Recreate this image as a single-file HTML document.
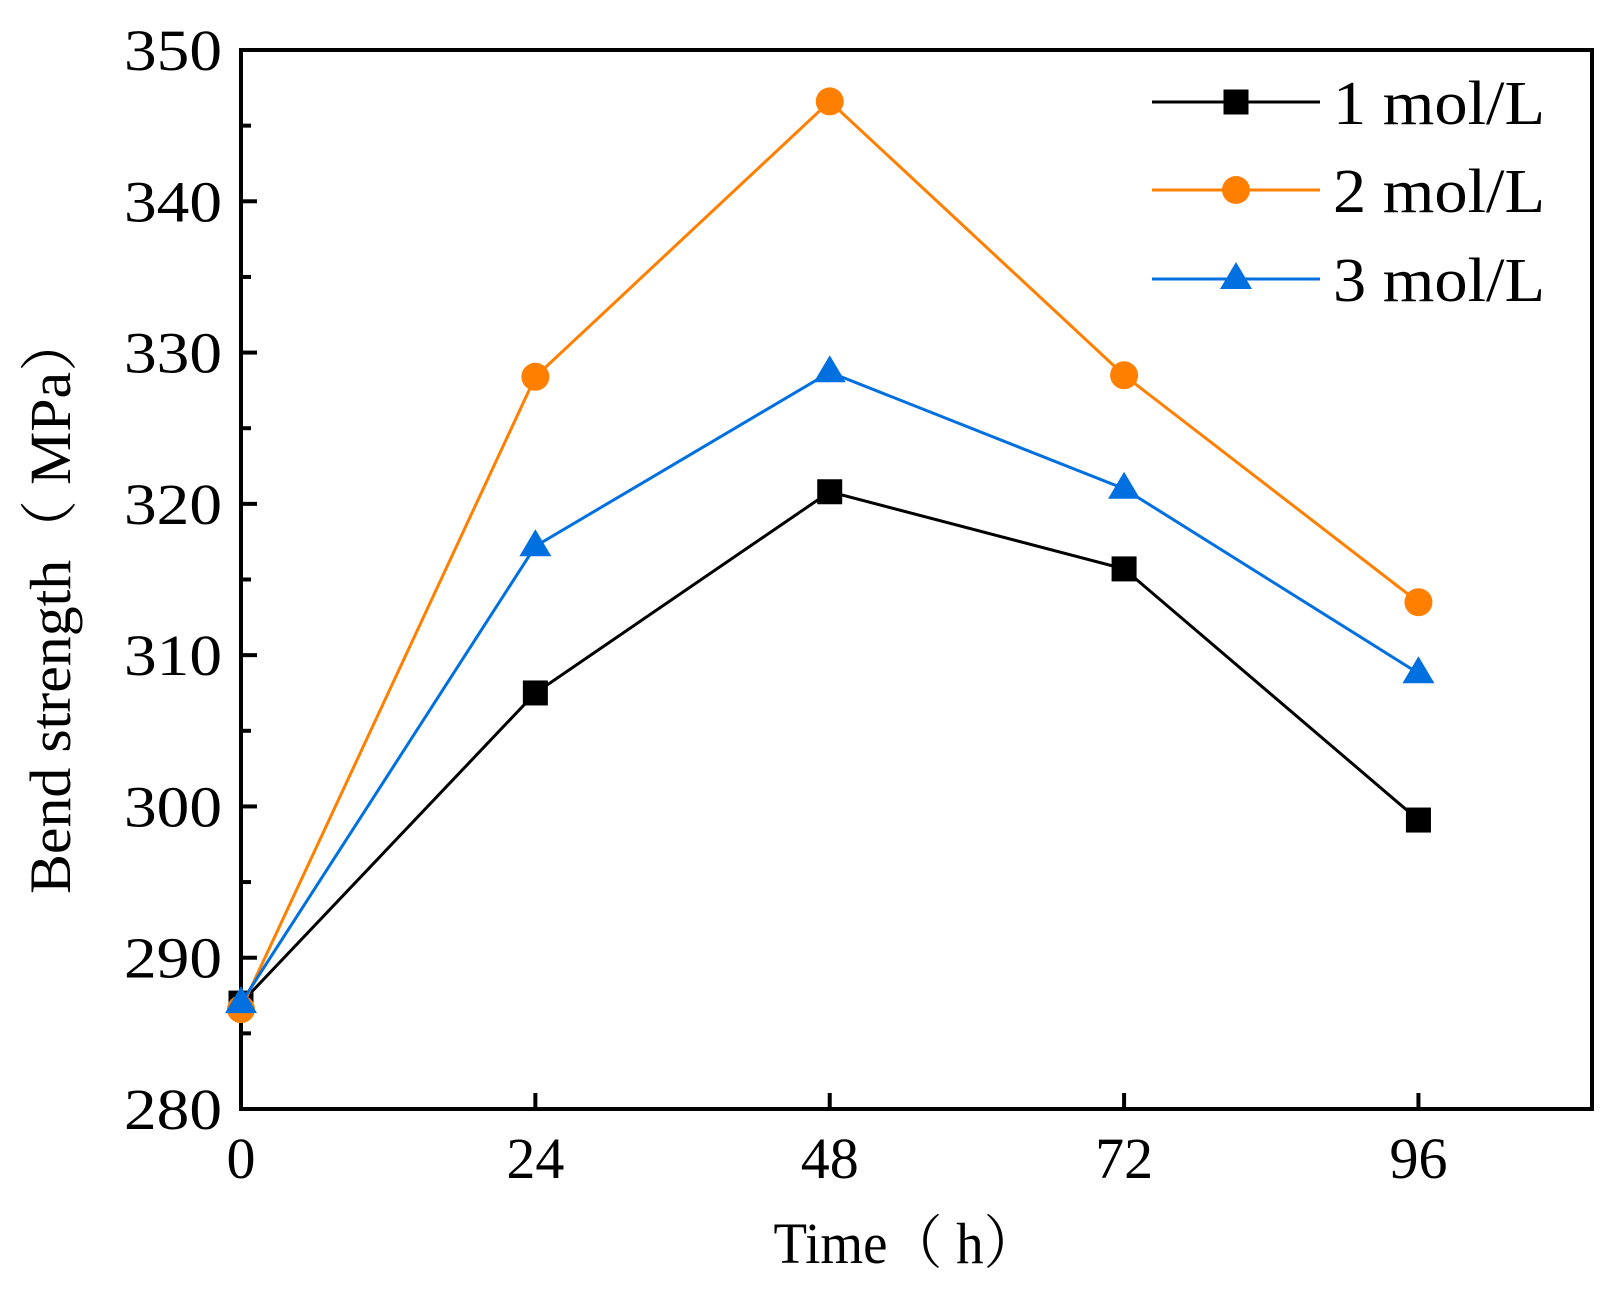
<!DOCTYPE html>
<html><head><meta charset="utf-8"><style>
html,body{margin:0;padding:0;background:#fff;}
svg{display:block;}
text{font-family:"Liberation Serif","Noto Serif CJK SC",serif;fill:#000;}
</style></head><body>
<svg id="chart" width="1621" height="1289" viewBox="0 0 1621 1289">
<g id="axes"></g>
<g id="series"></g>
<g id="legend"></g>
<text x="70" y="603" font-size="58" text-anchor="middle" textLength="582" lengthAdjust="spacingAndGlyphs" transform="rotate(-90 70 603)">Bend strength（ MPa）</text>
<text x="906" y="1263" font-size="58" text-anchor="middle" textLength="265" lengthAdjust="spacingAndGlyphs">Time（ h）</text>
</svg>
<script>
const categories = [0, 24, 48, 72, 96];
const series1 = [287, 307.5, 320.8, 315.7, 299.1];
const series2 = [286.6, 328.4, 346.6, 328.5, 313.5];
const series3 = [287, 317.2, 328.7, 321.0, 308.8];
const seriesNames = ["1 mol/L", "2 mol/L", "3 mol/L"];
const yTicks = [280, 290, 300, 310, 320, 330, 340, 350];
const yMinor = [285, 295, 305, 315, 325, 335, 345];
const xTicks = [0, 24, 48, 72, 96];

const NS = "http://www.w3.org/2000/svg";
const L = 241, R = 1592, T = 50, B = 1109;
const xMin = 0, xMax = 110.15, yMin = 280, yMax = 350;
const sx = v => L + (v - xMin) / (xMax - xMin) * (R - L);
const sy = v => B - (v - yMin) / (yMax - yMin) * (B - T);
function mk(tag, attrs, parent) {
  const e = document.createElementNS(NS, tag);
  for (const k in attrs) e.setAttribute(k, attrs[k]);
  parent.appendChild(e);
  return e;
}
const axes = document.getElementById('axes');
const frame = mk('rect', {x: L, y: T, width: R - L, height: B - T, fill: 'none', stroke: '#000', 'stroke-width': 4}, axes);


yTicks.forEach(v => {
  const t = mk('line', {x1: L, x2: L + 16, y1: sy(v), y2: sy(v), stroke: '#000', 'stroke-width': 4}, axes);
  
  
  const lb = mk('text', {x: 222, y: sy(v) + 20, 'font-size': 58, 'text-anchor': 'end', textLength: 98, lengthAdjust: 'spacingAndGlyphs'}, axes);
  lb.textContent = v;
  
  
});
yMinor.forEach(v => {
  const t = mk('line', {x1: L, x2: L + 10, y1: sy(v), y2: sy(v), stroke: '#000', 'stroke-width': 4}, axes);
  
  
});
xTicks.forEach(v => {
  const t = mk('line', {x1: sx(v), x2: sx(v), y1: B, y2: B - 16, stroke: '#000', 'stroke-width': 4}, axes);
  
  
  const lb = mk('text', {x: sx(v), y: 1178, 'font-size': 58, 'text-anchor': 'middle'}, axes);
  lb.textContent = v;
  
  
});
const colors = ['#000000', '#ff8000', '#0070e0'];
const shapes = ['square', 'circle', 'triangle'];
const all = [series1, series2, series3];
const sg = document.getElementById('series');
function marker(shape, x, y, c, parent) {
  let m;
  if (shape === 'square') m = mk('rect', {x: x - 12.5, y: y - 12.5, width: 25, height: 25, fill: c}, parent);
  else if (shape === 'circle') m = mk('circle', {cx: x, cy: y, r: 14, fill: c}, parent);
  else m = mk('polygon', {points: `${x},${y - 17} ${x - 16},${y + 10} ${x + 16},${y + 10}`, fill: c}, parent);
  return m;
}
all.forEach((data, i) => {
  const g = mk('g', {}, sg);
  
  
  const pts = data.map((v, j) => sx(categories[j]) + ',' + sy(v)).join(' ');
  const pl = mk('polyline', {points: pts, fill: 'none', stroke: colors[i], 'stroke-width': 3}, g);
  
  
  data.forEach((v, j) => {
    const m = marker(shapes[i], sx(categories[j]), sy(v), colors[i], g);
    
    
  });
});
const lg = document.getElementById('legend');
const rows = [102, 190, 279];
seriesNames.forEach((n, i) => {
  const g = mk('g', {}, lg);
  
  
  mk('line', {x1: 1152, x2: 1320, y1: rows[i], y2: rows[i], stroke: colors[i], 'stroke-width': 3}, g);
  marker(shapes[i], 1236, rows[i], colors[i], g);
  const t = mk('text', {x: 1333, y: rows[i] + 22, 'font-size': 62, textLength: 212, lengthAdjust: 'spacingAndGlyphs'}, g);
  t.textContent = n;
});
</script>
</body></html>
